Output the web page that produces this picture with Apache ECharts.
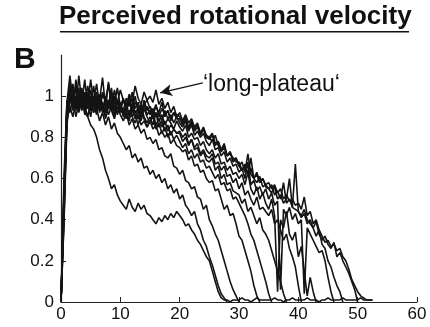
<!DOCTYPE html>
<html>
<head>
<meta charset="utf-8">
<script src="https://cdn.jsdelivr.net/npm/echarts@6/dist/echarts.min.js"></script>
<style>html,body{margin:0;padding:0;background:#fff;}#c{width:430px;height:327px;}</style>
</head>
<body>
<div id="c"></div>
<script>
// sample interval (s)
const STEP = 0.5;
const xTicks = [0, 10, 20, 30, 40, 50, 60];
const yTicks = [0, 0.2, 0.4, 0.6, 0.8, 1];
const titleText = 'Perceived rotational velocity';
const panelLabel = 'B';
const annotationText = '\u2018long-plateau\u2018';
const arrowFrom = [23.9, 1.065];
const arrowTo = [16.7, 1.016];

const trace1 = [0,.45,.88,.95,.9,.97,.93,1.0,.92,.9,
.86,.84,.8,.74,.7,.64,.6,.55,.57,.52,
.49,.47,.45,.5,.46,.44,.48,.45,.47,.43,
.42,.4,.38,.41,.39,.42,.4,.43,.41,.44,
.42,.4,.37,.38,.35,.33,.3,.28,.25,.22,
.2,.15,.1,.05,.02,.01,.01,0,.01,.01,
.01,.02,.01,.01,0,.01,.02,.01,.01,.01,
.01,.01,.02,.01,.01,0,.01,.01,.02,.01,
.01,.01,.01,.02,.01,.01,.01,0,.01,.01,
.02,.01,.01,.01,.01,.02,.01,.01,.01,.01,
.01,.02,.01,.01,.01,.01];
const trace2 = [0,.5,.9,1.02,.95,.98,.93,1.04,.95,.9,
.97,.92,.94,.88,.92,.86,.9,.84,.87,.82,
.8,.77,.74,.76,.7,.72,.68,.7,.65,.66,
.62,.64,.6,.62,.58,.6,.55,.57,.53,.55,
.5,.52,.47,.45,.42,.44,.38,.35,.3,.27,
.22,.18,.13,.08,.04,.02,0];
const trace3 = [0,.42,.93,.97,1.06,.96,.99,.94,1.0,.96,
.93,.98,.95,1.01,.94,.9,.96,.93,.89,.95,
.91,.88,.92,.86,.89,.84,.86,.82,.84,.79,
.8,.77,.79,.74,.75,.71,.7,.72,.66,.65,
.62,.64,.59,.58,.55,.56,.51,.5,.45,.47,
.4,.37,.33,.3,.25,.2,.15,.1,.06,.03,0];
const trace4 = [0,.55,.95,1.0,.93,1.08,.97,.95,1.02,.94,
1.0,.96,.92,.99,.94,.97,.91,.95,.93,.98,
.92,.94,.89,.93,.9,.87,.91,.86,.88,.85,
.88,.84,.86,.81,.83,.8,.82,.77,.79,.76,
.75,.73,.74,.69,.71,.66,.67,.63,.64,.6,
.58,.59,.54,.55,.5,.45,.47,.42,.43,.38,
.32,.3,.25,.2,.15,.08,.03,0];
const trace5 = [0,.48,.9,.98,1.03,.94,1.1,.97,.93,1.0,
.95,1.05,.94,.98,.92,1.0,.95,.93,.99,.91,
.96,.92,.94,1.0,.9,.93,.89,.95,.9,.87,
.9,.86,.92,.85,.88,.83,.86,.81,.84,.82,
.82,.78,.8,.76,.79,.74,.75,.71,.73,.69,
.68,.7,.64,.66,.6,.62,.57,.58,.54,.53,
.52,.48,.5,.44,.46,.42,.38,.41,.35,.33,
.3,.25,.2,.15,.1,.04,0];
const trace6 = [0,.52,.96,1.0,.95,.99,1.04,.93,.97,1.01,
.94,.98,1.06,.95,.93,.99,.96,1.02,.94,.97,
.93,.98,.95,.91,.97,.92,.94,.9,.96,.91,
.93,.89,.92,.88,.91,.86,.89,.87,.84,.88,
.85,.83,.86,.8,.82,.79,.8,.76,.78,.74,
.72,.74,.7,.72,.67,.68,.64,.66,.62,.63,
.6,.62,.57,.63,.55,.52,.56,.5,.53,.48,
.45,.5,.42,.05,.4,.36,.44,.33,.3,.34,
.22,.27,.15,.03,.12,.05,0];
const trace7 = [0,.4,.9,1.05,.97,.94,1.0,.96,1.08,.95,
.99,.93,.97,1.0,.95,.92,.98,.94,1.03,.96,
.95,.99,.93,.97,.94,1.0,.92,.96,.93,.95,
.91,.94,.9,.92,.88,.93,.89,.91,.87,.9,
.87,.85,.88,.83,.86,.81,.83,.8,.82,.78,
.76,.79,.74,.75,.71,.73,.68,.7,.66,.67,
.63,.65,.6,.68,.57,.59,.54,.56,.52,.55,
.5,.53,.47,.49,.06,.45,.42,.46,.4,.43,
.38,.4,.04,.36,.33,.3,.27,.24,.25,.2,
.12,.05,0];
const trace8 = [0,.46,.94,.99,1.02,.96,.93,1.01,.97,1.05,
.96,1.0,.94,.98,1.09,.95,.97,1.0,.94,.98,
.96,.93,.99,.95,1.02,.94,.97,.92,.96,.98,
.94,.91,.95,.92,.97,.9,.93,.89,.92,.91,
.9,.87,.89,.85,.88,.84,.86,.82,.85,.81,
.8,.82,.77,.78,.74,.76,.71,.73,.69,.7,
.66,.68,.63,.72,.62,.6,.63,.58,.6,.56,
.55,.57,.52,.54,.5,.58,.48,.5,.46,.67,
.44,.42,.45,.4,.38,.36,.39,.33,.3,.32,
.28,.26,.29,.22,.24,.2,.17,.14,.1,.06,0];
const trace9 = [0,.5,.97,1.1,.98,1.0,.95,1.03,.99,.96,
1.08,.97,1.0,.95,1.02,.98,1.06,.96,1.0,.97,
1.03,.98,.95,1.01,.97,1.05,.99,.96,1.02,.98,
1.0,.97,1.03,.96,.99,.94,.97,.92,.95,.9,
.92,.88,.91,.87,.89,.85,.87,.82,.84,.8,
.8,.78,.81,.76,.74,.77,.71,.73,.68,.7,
.66,.64,.67,.62,.65,.6,.62,.58,.6,.57,
.58,.55,.57,.53,.55,.5,.52,.49,.5,.47,
.48,.45,.51,.42,.44,.38,.4,.35,.32,.29,
.3,.27,.28,.25,.26,.22,.2,.16,.11,.08,
.05,.03,.02,.01,.01,.01];
const trace10 = [0,.6,.98,.92,1.0,.9,.96,1.03,.91,.97,
.9,.98,1.02,.92,.97,.89,.95,1.04,.91,.94,
.97,.9,.93,.88,.95,.91,.86,.92,.89,.85,
.88,.9,.84,.87,.82,.85,.8,.83,.79,.81,
.78,.75,.77,.72,.74,.7,.72,.68,.69,.65,
.66,.63,.6,.62,.57,.58,.54,.55,.5,.51,
.48,.45,.42,.38,.33,.3,.25,.2,.15,.1,
.04,0];
const trace11 = [0,.38,.86,1.0,.94,1.05,.92,.98,.95,1.02,
.93,.97,.91,1.01,.96,.93,1.07,.95,.9,.98,
.94,.91,.97,.9,.95,.89,.93,.88,.94,.9,
.87,.92,.86,.89,.85,.88,.83,.86,.84,.82,
.83,.8,.82,.77,.79,.75,.77,.72,.74,.71,
.7,.72,.67,.68,.64,.66,.61,.62,.58,.6,
.55,.58,.52,.54,.5,.47,.51,.45,.46,.44,
.42,.45,.38,.4,.35,.3,.33,.26,.22,.17,
.08,0];
const trace12 = [0,.52,.92,1.07,.99,.93,1.02,.97,1.0,.94,
1.03,.95,.99,.93,1.01,.97,.94,1.0,.96,1.04,
.95,.98,.94,.99,.92,.97,.95,.91,.98,.93,
.95,.92,.96,.9,.94,.91,.93,.88,.92,.89,
.89,.86,.9,.84,.87,.83,.85,.81,.84,.8,
.79,.81,.76,.78,.73,.75,.71,.72,.7,.68,
.68,.64,.66,.62,.7,.6,.58,.61,.56,.57,
.55,.53,.56,.5,.52,.48,.5,.6,.46,.45,
.44,.41,.43,.38,.4,.36,.32,.35,.28,.26,
.2,.17,.12,.08,.05,0];

const traces = [trace1, trace2, trace3, trace4, trace5, trace6, trace7, trace8, trace9, trace10, trace11, trace12];
const FONT = "'Liberation Sans', Arial, sans-serif";

const series = traces.map((tr, k) => {
  const s = {
    type: 'line',
    data: tr.map((v, i) => [i * STEP, v]),
    showSymbol: false,
    symbol: 'none',
    lineStyle: { color: '#141414', width: 1.6 },
    silent: true,
    animation: false,
    z: 2
  };
  if (k === 8) {
    s.markLine = {
      silent: true,
      symbol: ['none', 'arrow'],
      symbolSize: [9, 12],
      lineStyle: { color: '#141414', width: 1.3, type: 'solid' },
      label: { show: false },
      data: [[{ coord: arrowFrom }, { coord: arrowTo }]],
      animation: false
    };
  }
  return s;
});

const chart = echarts.init(document.getElementById('c'), null, { renderer: 'canvas' });
chart.setOption({
  animation: false,
  backgroundColor: '#fff',
  grid: { left: 61, right: 13, top: 55, bottom: 25, containLabel: false },
  xAxis: {
    type: 'value', min: 0, max: 60, interval: 10,
    axisLine: { show: true, lineStyle: { color: '#222', width: 1.2 } },
    axisTick: { show: true, inside: true, length: 5, lineStyle: { color: '#222' }, customValues: xTicks },
    axisLabel: { customValues: xTicks, color: '#111', fontSize: 17, fontFamily: FONT, margin: 4 },
    splitLine: { show: false }
  },
  yAxis: {
    type: 'value', min: 0, max: 1.2, interval: 0.2,
    axisLine: { show: true, lineStyle: { color: '#222', width: 1.2 } },
    axisTick: { show: true, inside: true, length: 5, lineStyle: { color: '#222' }, customValues: yTicks },
    axisLabel: { customValues: yTicks, color: '#111', fontSize: 17, fontFamily: FONT, margin: 7,
      formatter: v => String(+v.toFixed(1)) },
    splitLine: { show: false }
  },
  graphic: [
    { type: 'text', left: 59, top: 4, style: { text: titleText, font: "bold 26px " + FONT, fill: '#111' } },
    { type: 'rect', shape: { x: 60, y: 31, width: 349, height: 1.6 }, style: { fill: '#111' } },
    { type: 'text', left: 14, top: 45, style: { text: panelLabel, font: "bold 30px " + FONT, fill: '#111' } },
    { type: 'text', left: 203, top: 73, style: { text: annotationText, font: "23px " + FONT, fill: '#111' } }
  ],
  series: series
});
</script>
</body>
</html>
